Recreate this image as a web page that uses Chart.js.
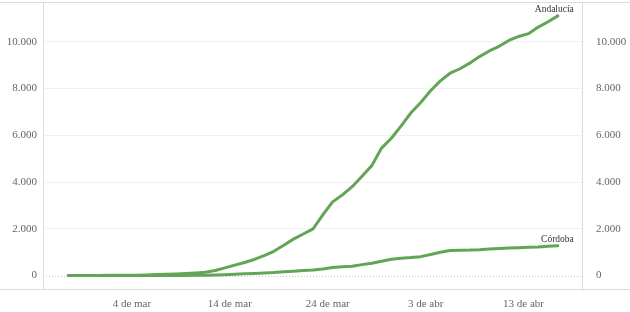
<!DOCTYPE html>
<html><head><meta charset="utf-8">
<script src="https://cdn.jsdelivr.net/npm/chart.js@4/dist/chart.umd.min.js"></script>
<style>html,body{margin:0;padding:0;background:#fff}#wrap{width:630px;height:312px;position:relative}</style>
</head><body><div id="wrap"><canvas id="c" width="630" height="312"></canvas></div>
<script>
// Categories: one point per day, 27 feb – 17 abr 2020
const dates = ["27 feb","28 feb","29 feb",
  "1 mar","2 mar","3 mar","4 mar","5 mar","6 mar","7 mar","8 mar","9 mar","10 mar",
  "11 mar","12 mar","13 mar","14 mar","15 mar","16 mar","17 mar","18 mar","19 mar","20 mar",
  "21 mar","22 mar","23 mar","24 mar","25 mar","26 mar","27 mar","28 mar","29 mar","30 mar","31 mar",
  "1 abr","2 abr","3 abr","4 abr","5 abr","6 abr","7 abr","8 abr","9 abr","10 abr",
  "11 abr","12 abr","13 abr","14 abr","15 abr","16 abr","17 abr"];
const seriesNames = ["Andalucía", "Córdoba"];
const andalucia = [1,2,6,8,12,13,13,20,27,43,54,71,90,115,140,219,330,450,560,690,
  850,1040,1300,1560,1780,2000,2600,3150,3450,3800,4250,4700,5450,5870,6400,6960,
  7400,7900,8320,8650,8840,9080,9360,9600,9800,10050,10220,10340,10620,10850,11100];
const cordoba = [0,0,0,0,0,1,1,1,2,2,3,5,8,12,20,28,40,58,80,95,
  115,130,160,190,220,240,280,345,380,400,470,530,610,700,740,770,
  810,900,1000,1070,1080,1090,1110,1140,1160,1175,1190,1210,1225,1250,1280];
// x tick positions (day index) and labels
const xTickPositions = [6.5, 16.5, 26.5, 36.5, 46.5];
const xTickLabels = ["4 de mar", "14 de mar", "24 de mar", "3 de abr", "13 de abr"];
const yTickValues = [0, 2000, 4000, 6000, 8000, 10000];

const FONT = '"Liberation Serif", "Times New Roman", serif';
const LINE_COLOR = '#63a556';
const fmt = v => String(v).replace(/\B(?=(\d{3})+(?!\d))/g, '.');
const toPts = arr => arr.map((v, i) => ({x: i, y: v}));

const framePlugin = {
  id: 'frame',
  beforeDatasetsDraw(chart) {
    const {ctx, chartArea: a, scales} = chart;
    const y0 = Math.round(scales.y.getPixelForValue(0)) + 0.5;
    ctx.save();
    ctx.strokeStyle = '#c8c8c8';
    ctx.lineWidth = 1;
    ctx.setLineDash([1, 2]);
    ctx.beginPath(); ctx.moveTo(a.left, y0); ctx.lineTo(a.right, y0); ctx.stroke();
    ctx.setLineDash([]);
    ctx.strokeStyle = '#dcdcdc';
    ctx.beginPath();
    ctx.moveTo(0, a.top - 0.5); ctx.lineTo(chart.width, a.top - 0.5);
    ctx.moveTo(0, a.bottom - 0.5); ctx.lineTo(chart.width, a.bottom - 0.5);
    ctx.moveTo(a.left + 0.5, a.top); ctx.lineTo(a.left + 0.5, a.bottom);
    ctx.moveTo(a.right - 0.5, a.top); ctx.lineTo(a.right - 0.5, a.bottom + 1);
    ctx.stroke();
    ctx.restore();
  },
  afterDatasetsDraw(chart) {
    const {ctx} = chart;
    ctx.save();
    ctx.font = '9.5px ' + FONT;
    ctx.fillStyle = '#333';
    ctx.textAlign = 'right';
    ctx.textBaseline = 'alphabetic';
    chart.data.datasets.forEach((ds, di) => {
      const meta = chart.getDatasetMeta(di);
      const p = meta.data[meta.data.length - 1];
      ctx.fillText(ds.label, p.x + 16, p.y - 4);
    });
    ctx.restore();
  }
};

new Chart(document.getElementById('c'), {
  type: 'line',
  data: {
    datasets: [
      {label: seriesNames[0], data: toPts(andalucia), yAxisID: 'y'},
      {label: seriesNames[1], data: toPts(cordoba), yAxisID: 'y'}
    ].map(d => Object.assign(d, {
      borderColor: LINE_COLOR, backgroundColor: LINE_COLOR, borderWidth: 3,
      pointRadius: 0, tension: 0, borderJoinStyle: 'round', borderCapStyle: 'round', fill: false
    }))
  },
  options: {
    responsive: false, animation: false, devicePixelRatio: 1,
    layout: {padding: {top: 3, left: 0, right: 0, bottom: 0}},
    plugins: {legend: {display: false}, tooltip: {enabled: false}},
    scales: {
      x: {
        type: 'linear', min: -2.58, max: 52.57,
        grid: {display: false, drawTicks: false}, border: {display: false},
        afterBuildTicks: s => { s.ticks = xTickPositions.map(v => ({value: v})); },
        afterFit: s => { s.height = 22; s.paddingLeft = 0; s.paddingRight = 0; },
        ticks: {
          autoSkip: false, maxRotation: 0, padding: 8,
          color: '#666', font: {family: FONT, size: 11},
          callback: (v, i) => xTickLabels[i]
        }
      },
      y: {
        type: 'linear', position: 'left', min: -615, max: 11650,
        afterBuildTicks: s => { s.ticks = yTickValues.map(v => ({value: v})); },
        afterFit: s => { s.width = 43; s.paddingTop = 0; s.paddingBottom = 0; },
        grid: {color: c => c.tick && c.tick.value === 0 ? 'rgba(0,0,0,0)' : '#f1f1f1', drawTicks: false},
        border: {display: false},
        ticks: {padding: 6, color: '#666', font: {family: FONT, size: 11}, callback: v => fmt(v)}
      },
      y2: {
        type: 'linear', position: 'right', min: -615, max: 11650,
        afterBuildTicks: s => { s.ticks = yTickValues.map(v => ({value: v})); },
        afterFit: s => { s.width = 47; s.paddingTop = 0; s.paddingBottom = 0; },
        grid: {display: false, drawTicks: false},
        border: {display: false},
        ticks: {padding: 13, color: '#666', font: {family: FONT, size: 11}, callback: v => fmt(v)}
      }
    }
  },
  plugins: [framePlugin]
});
</script></body></html>
